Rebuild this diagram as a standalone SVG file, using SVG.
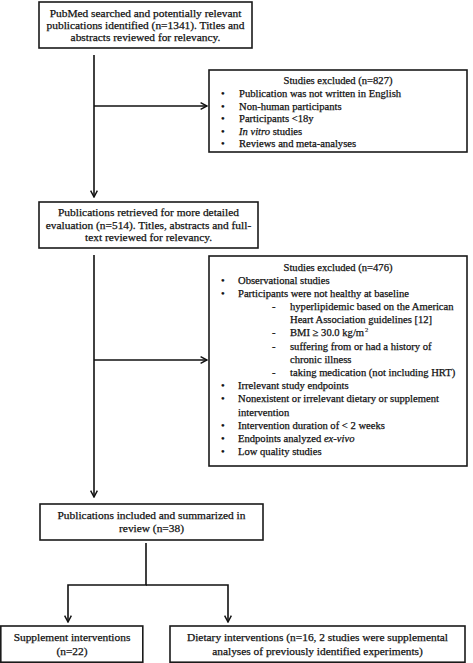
<svg xmlns="http://www.w3.org/2000/svg" width="473" height="663" viewBox="0 0 473 663">
<style>
  .box { fill: #fff; stroke: #1a1a1a; stroke-width: 1.6; }
  text { font-family: "Liberation Serif", "Times New Roman", serif; font-size: 11.4px; fill: #111; stroke: #111; stroke-width: 0.25; }
  .s { font-size: 10.6px; }
  .sup { font-size: 6.5px; stroke-width: 0.15; }
  .c { text-anchor: middle; }
  .conn { fill: none; stroke: #111; stroke-width: 1.6; }
</style>
<defs>
  <marker id="arr" viewBox="0 0 10 10" refX="9" refY="5" markerWidth="8" markerHeight="8" markerUnits="userSpaceOnUse" orient="auto">
    <path d="M1,0.8 L9,5 L1,9.2" fill="none" stroke="#111" stroke-width="1.8"/>
  </marker>
</defs>
<rect width="473" height="663" fill="#fff"/>

<g id="connectors">
  <path class="conn" d="M94,55 V197" marker-end="url(#arr)"/>
  <path class="conn" d="M94,106 H207" marker-end="url(#arr)"/>
  <path class="conn" d="M94,255 V497" marker-end="url(#arr)"/>
  <path class="conn" d="M94,360 H207" marker-end="url(#arr)"/>
  <path class="conn" d="M146,543 V585 H68 V622" marker-end="url(#arr)"/>
  <path class="conn" d="M146,585 H228 V622" marker-end="url(#arr)"/>
</g>

<g id="n1">
  <rect class="box" x="39" y="2" width="213" height="46"/>
  <text class="c" x="145.5" y="16.5">PubMed searched and potentially relevant</text>
  <text class="c" x="145.5" y="28.5">publications identified (n=1341). Titles and</text>
  <text class="c" x="145.5" y="40.5">abstracts reviewed for relevancy.</text>
</g>

<g id="n2">
  <rect class="box" x="209" y="70" width="258" height="82"/>
  <text class="c s" x="338" y="84">Studies excluded (n=827)</text>
  <text class="s" x="221" y="97">•</text><text class="s" x="239" y="97">Publication was not written in English</text>
  <text class="s" x="221" y="109.5">•</text><text class="s" x="239" y="109.5">Non-human participants</text>
  <text class="s" x="221" y="122">•</text><text class="s" x="239" y="122">Participants &lt;18y</text>
  <text class="s" x="221" y="134.5">•</text><text class="s" x="239" y="134.5"><tspan font-style="italic">In vitro</tspan> studies</text>
  <text class="s" x="221" y="147">•</text><text class="s" x="239" y="147">Reviews and meta-analyses</text>
</g>

<g id="n3">
  <rect class="box" x="39" y="202" width="219" height="46"/>
  <text class="c" x="148.5" y="216">Publications retrieved for more detailed</text>
  <text class="c" x="148.5" y="228.5">evaluation (n=514). Titles, abstracts and full-</text>
  <text class="c" x="148.5" y="241">text reviewed for relevancy.</text>
</g>

<g id="n4">
  <rect class="box" x="209" y="256" width="258" height="210"/>
  <text class="c s" x="338" y="270.5">Studies excluded (n=476)</text>
  <text class="s" x="221" y="283.5">•</text><text class="s" x="238" y="283.5">Observational studies</text>
  <text class="s" x="221" y="296.5">•</text><text class="s" x="238" y="296.5">Participants were not healthy at baseline</text>
  <text class="s" x="272" y="310">-</text><text class="s" x="290" y="310">hyperlipidemic based on the American</text>
  <text class="s" x="290" y="323">Heart Association guidelines [12]</text>
  <text class="s" x="272" y="336">-</text><text class="s" x="290" y="336">BMI ≥ 30.0 kg/m</text>
  <text class="sup" x="365" y="332">2</text>
  <text class="s" x="272" y="349.5">-</text><text class="s" x="290" y="349.5">suffering from or had a history of</text>
  <text class="s" x="290" y="362.5">chronic illness</text>
  <text class="s" x="272" y="376">-</text><text class="s" x="290" y="376">taking medication (not including HRT)</text>
  <text class="s" x="221" y="389">•</text><text class="s" x="238" y="389">Irrelevant study endpoints</text>
  <text class="s" x="221" y="402">•</text><text class="s" x="238" y="402">Nonexistent or irrelevant dietary or supplement</text>
  <text class="s" x="238" y="415.5">intervention</text>
  <text class="s" x="221" y="428.5">•</text><text class="s" x="238" y="428.5">Intervention duration of &lt; 2 weeks</text>
  <text class="s" x="221" y="442">•</text><text class="s" x="238" y="442">Endpoints analyzed <tspan font-style="italic">ex-vivo</tspan></text>
  <text class="s" x="221" y="455">•</text><text class="s" x="238" y="455">Low quality studies</text>
</g>

<g id="n5">
  <rect class="box" x="40" y="504" width="223" height="36"/>
  <text class="c" x="151.5" y="518.5">Publications included and summarized in</text>
  <text class="c" x="151.5" y="532">review (n=38)</text>
</g>

<g id="n6">
  <rect class="box" x="0.8" y="626" width="142" height="36.2"/>
  <text class="c" x="72" y="641">Supplement interventions</text>
  <text class="c" x="72" y="655">(n=22)</text>
</g>

<g id="n7">
  <rect class="box" x="170" y="626" width="295" height="36.2"/>
  <text class="c" x="317.5" y="641">Dietary interventions (n=16, 2 studies were supplemental</text>
  <text class="c" x="317.5" y="655">analyses of previously identified experiments)</text>
</g>
</svg>
